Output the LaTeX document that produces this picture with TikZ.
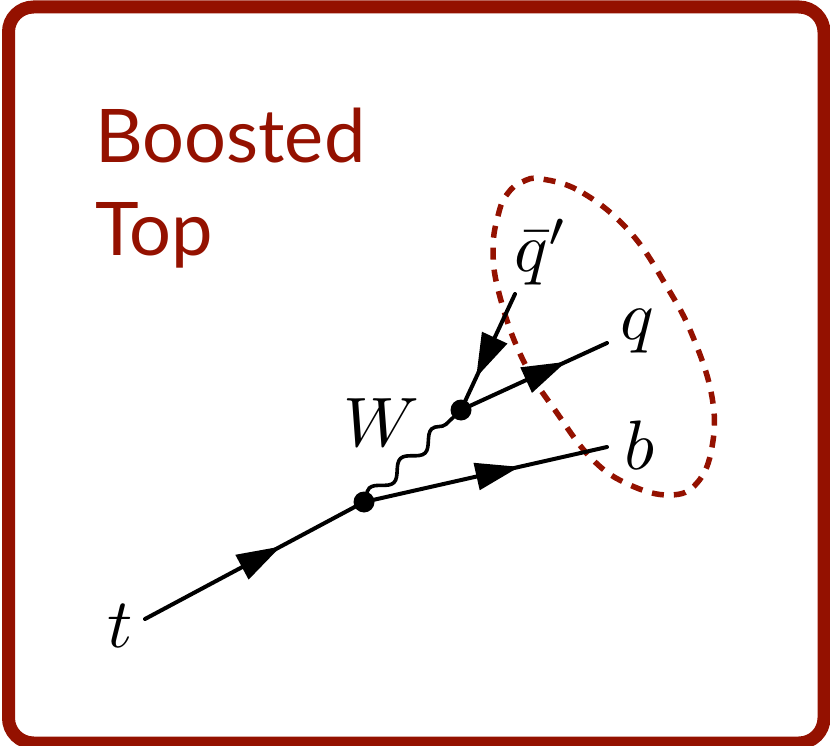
\documentclass[tikz,border=0pt]{standalone}
\usepackage{fontspec}
\setmainfont{Lato}
\usetikzlibrary{arrows.meta,decorations.markings,decorations.pathmorphing}
\definecolor{cayenne}{RGB}{148,17,0}
\tikzset{
  frame/.style={draw=cayenne,line width=13pt,rounded corners=25pt},
  title/.style={text=cayenne,font=\fontsize{74}{93}\selectfont,align=left,inner sep=0pt,anchor=south west},
  vertex/.style={circle,fill=black,minimum size=21pt,inner sep=0pt},
  lab/.style={inner sep=0pt,scale=7},
  fermion/.style={line width=4pt,line cap=round,postaction={decorate},
    decoration={markings,mark=at position #1 with {\arrow{Triangle[length=44pt,width=27pt]}}}},
  boson/.style={line width=3.6pt,decorate,decoration={snake,segment length=43pt,amplitude=6.5pt}},
  cone/.style={draw=cayenne,line width=5.5pt,dash pattern=on 12pt off 10pt}
}
\begin{document}
\begin{tikzpicture}[x=1pt,y=-1pt]
\useasboundingbox (0,0) rectangle (830,746);
\draw[frame] (8.5,7) rectangle (824,743);
\node[title] (ttl) at (95,268) {Boosted\\Top};
\draw[cone] plot[smooth cycle,tension=0.7] coordinates {(542,179) (583,193) (630,232) (667,287) (693,337) (712,397) (712,447) (697,483) (670,495) (630,485) (593,460) (557,413) (523,360) (500,297) (493,250) (499,212) (508,193) (522,182)};
\node[vertex] (v1) at (364,502) {};
\node[vertex] (v2) at (461,410) {};
\coordinate (et) at (145,619);
\coordinate (eb) at (607,447);
\coordinate (eq) at (607,343);
\coordinate (eqb) at (515,294);
\draw[fermion=0.62] (et) -- (v1.center);
\draw[fermion=0.64] (v1.center) -- (eb);
\draw[fermion=0.72] (v2.center) -- (eq);
\draw[fermion=0.72] (eqb) -- (v2.center);
\draw[boson] (v1.center) -- (v2.center);
\node[lab] (lt) at (120,626) {$t$};
\node[lab] (lw) at (381,423) {$W$};
\node[lab] (lb) at (640,445) {$b$};
\node[lab] (lq) at (637,331) {$q$};
\node[lab] (lqb) at (541,252) {$\bar{q}'$};
\end{tikzpicture}
\end{document}
